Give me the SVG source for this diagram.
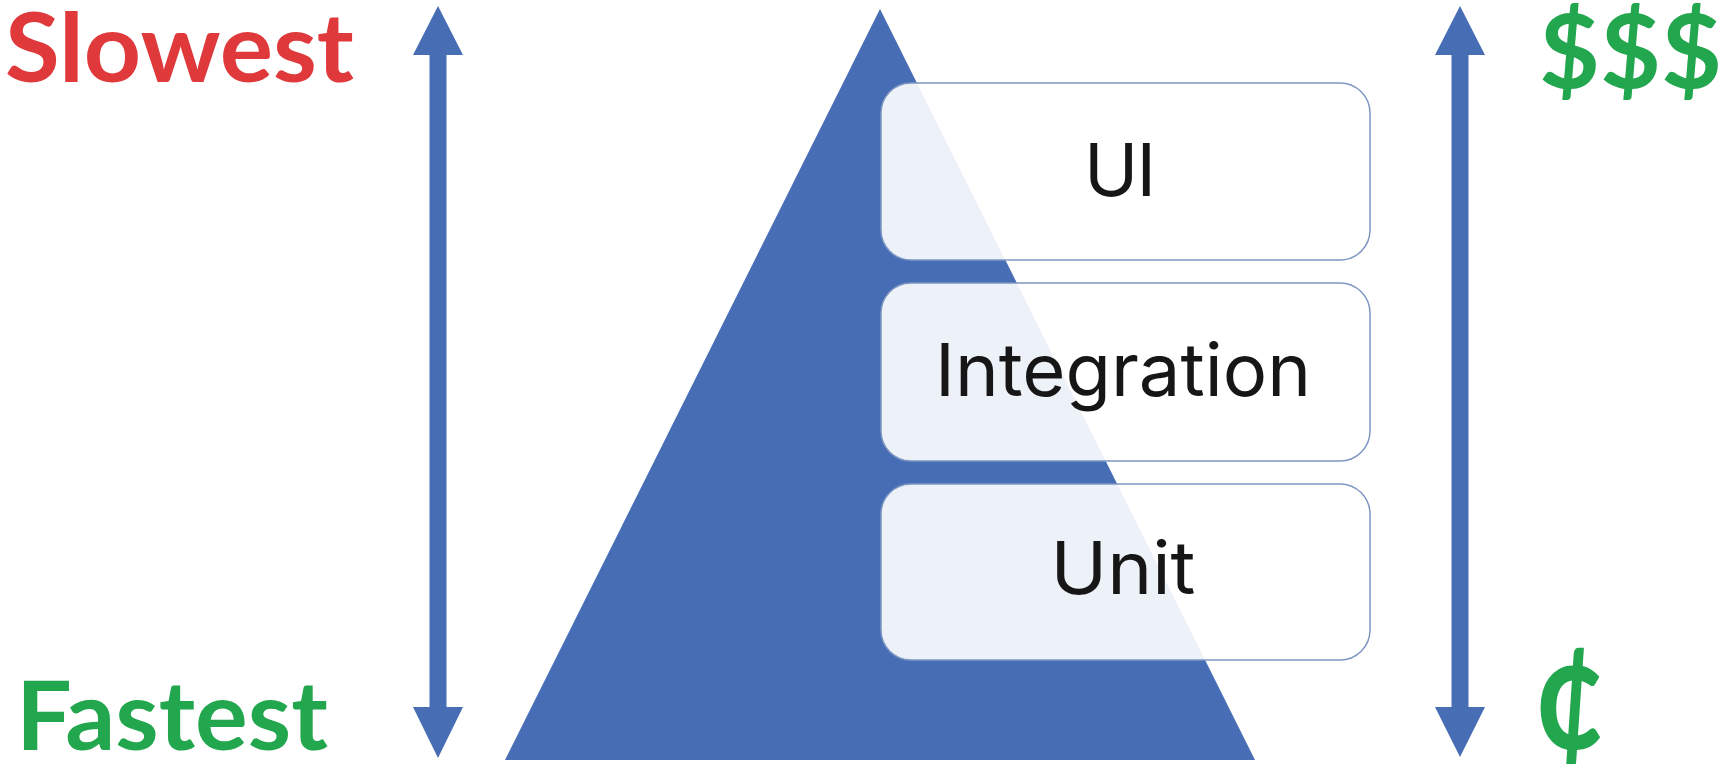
<svg xmlns="http://www.w3.org/2000/svg" width="1725" height="764" viewBox="0 0 1725 764">
<style>
.blue{fill:#476EB4;}
.box{fill:#FFFFFF;fill-opacity:0.9;stroke:#7D96C2;stroke-width:1.5;}
.lbl{font-family:Inter,"Noto Sans","Liberation Sans",sans-serif;font-size:73px;fill:#161616;text-anchor:middle;}
.big{font-family:Lato,"Liberation Sans",sans-serif;font-weight:bold;font-size:96px;}
.red{fill:#E0393B;}
.green{fill:#22A64E;}
</style>
<rect width="1725" height="764" fill="#FFFFFF"/>
<g id="pyramid">
<polygon class="blue" points="880,9 1255,760 505,760"/>
</g>
<g id="connectors">
<polygon class="blue" points="438,6 463,55 446.5,55 446.5,707 463,707 438,758 413,707 429.5,707 429.5,55 413,55"/>
<polygon class="blue" points="1460,6 1485,55 1468.5,55 1468.5,707 1485,707 1460,757 1435,707 1451.5,707 1451.5,55 1435,55"/>
</g>
<g id="ui">
<rect class="box" x="881" y="83" width="489" height="177" rx="30" ry="30"/>
<text class="lbl" x="1120" y="196" textLength="72" lengthAdjust="spacing">UI</text>
</g>
<g id="integration">
<rect class="box" x="881" y="283" width="489" height="178" rx="30" ry="30"/>
<text class="lbl" x="1123" y="396" textLength="376" lengthAdjust="spacingAndGlyphs">Integration</text>
</g>
<g id="unit">
<rect class="box" x="881" y="484" width="489" height="176" rx="30" ry="30"/>
<text class="lbl" x="1123" y="594" textLength="145" lengthAdjust="spacingAndGlyphs">Unit</text>
</g>
<g id="slowest">
<text class="big red" x="5" y="82" textLength="349" lengthAdjust="spacingAndGlyphs">Slowest</text>
</g>
<g id="fastest">
<text class="big green" x="16" y="750" textLength="312" lengthAdjust="spacingAndGlyphs">Fastest</text>
</g>
<g id="expensive">
<text class="big green" x="1539" y="88" style="font-size:104px" textLength="183" lengthAdjust="spacingAndGlyphs">$$$</text>
</g>
<g id="cheap">
<text class="big green" x="0" y="0" transform="translate(1533,749) scale(1,1.26)" style="font-size:128px">¢</text>
</g>
</svg>
